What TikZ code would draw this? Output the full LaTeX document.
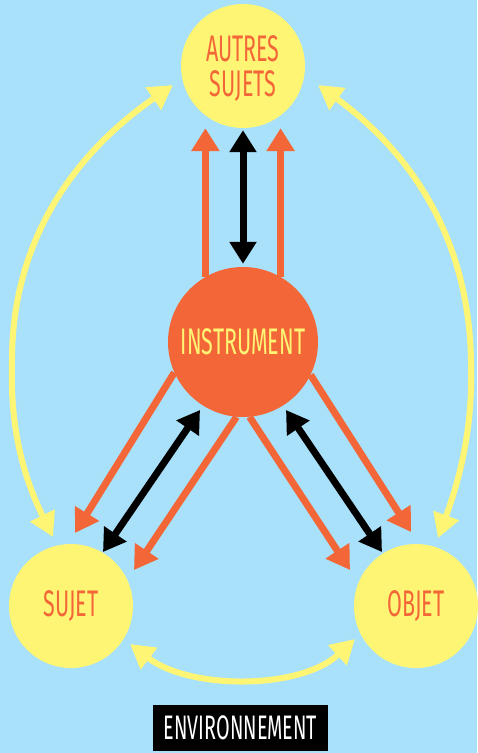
\documentclass[tikz,border=0pt]{standalone}
\usepackage{fontspec}
\setmainfont{Fira Sans}[FakeStretch=0.58]
\usetikzlibrary{arrows.meta}
\definecolor{bg}{HTML}{A9E1FA}
\definecolor{yel}{HTML}{FFF574}
\definecolor{ora}{HTML}{F26638}
\begin{document}
\begin{tikzpicture}[x=1pt,y=-1pt,
  bubble/.style={circle,fill=yel,text=ora,minimum size=124pt,inner sep=0pt,align=center,font=\fontsize{37}{35}\selectfont},
  core/.style={circle,fill=ora,text=yel,minimum size=150pt,inner sep=0pt,font=\fontsize{37}{35}\selectfont},
  oarrow/.style={draw=ora,line width=7pt,-{Triangle[length=23pt,width=27pt]}},
  karrow/.style={draw=black,line width=7pt,{Triangle[length=22pt,width=26pt]}-{Triangle[length=22pt,width=26pt]}},
  yarrow/.style={draw=yel,line width=6pt,{Triangle[length=24pt,width=26pt]}-{Triangle[length=24pt,width=26pt]}}]
\fill[bg] (0,0) rectangle (477,753);
\useasboundingbox (0,0) rectangle (477,753);
% nodes
\node[bubble] (aut) at (243,66) {};
\node[text=ora,align=center,font=\fontsize{37}{35}\selectfont] (autt) at (243,69) {AUTRES\\SUJETS};
\node[core] (ins) at (243,342) {INSTRUMENT};
\node[bubble] (suj) at (71,606) {SUJET};
\node[bubble] (obj) at (416,606) {OBJET};
\node[fill=black,text=white,minimum width=175pt,minimum height=46pt,inner sep=0pt,font=\fontsize{34}{34}\selectfont] (env) at (240.5,728) {ENVIRONNEMENT};
% free ends
\coordinate (tOL) at (75,533);
\coordinate (tIL) at (134,570);
\coordinate (tIR) at (350,570);
\coordinate (tOR) at (411,532);
\coordinate (kL) at (103,552);
\coordinate (kLt) at (200,410);
\coordinate (kR) at (382,552);
\coordinate (kRt) at (286,410);
\coordinate (yL1) at (53,537);
\coordinate (yLm) at (12,360);
\coordinate (yL2) at (173,85);
\coordinate (yR1) at (438,538);
\coordinate (yRm) at (471,360);
\coordinate (yR2) at (318,85);
\coordinate (yB1) at (130,644);
\coordinate (yB2) at (355,639);
% top arrows
\draw[oarrow] (ins.120) -- (ins.120 |- aut.south);
\draw[oarrow] (ins.60) -- (ins.60 |- aut.south);
\draw[karrow,shorten <=2pt,shorten >=3pt] (aut.south) -- (ins.north);
% lower arrows
\draw[oarrow] (ins.204.5) -- (tOL);
\draw[oarrow] (ins.265) -- (tIL);
\draw[oarrow] (ins.275) -- (tIR);
\draw[oarrow] (ins.334.5) -- (tOR);
\draw[karrow] (kLt) -- (kL);
\draw[karrow] (kRt) -- (kR);
% yellow curves
\draw[yarrow] (yL1) .. controls (20,470) and (10,420) .. (yLm) .. controls (12,250) and (65,160) .. (yL2);
\draw[yarrow] (yR1) .. controls (463,470) and (473,420) .. (yRm) .. controls (469,250) and (421,160) .. (yR2);
\draw[yarrow] (yB1) .. controls (190,690) and (300,690) .. (yB2);
\end{tikzpicture}
\end{document}
